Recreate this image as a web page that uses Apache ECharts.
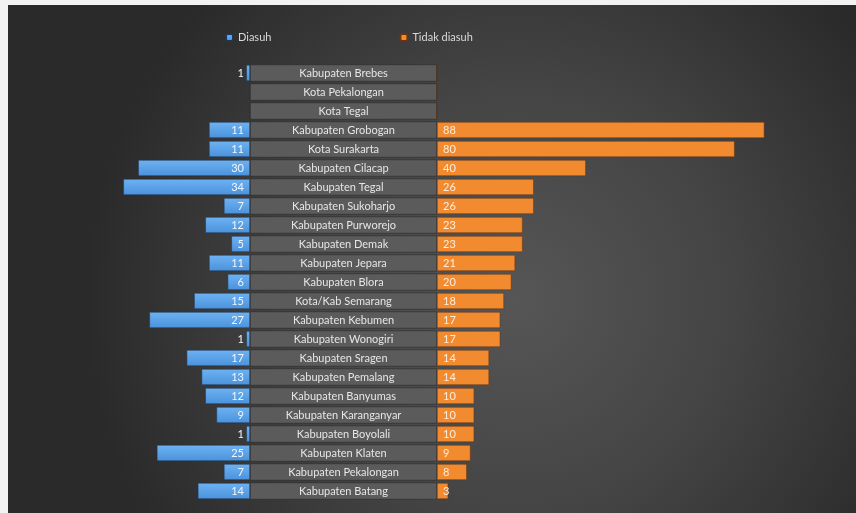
<!DOCTYPE html>
<html>
<head>
<meta charset="utf-8">
<script src="https://cdn.jsdelivr.net/npm/echarts@6/dist/echarts.min.js"></script>
<style>
html,body{margin:0;padding:0;background:#f2f2f2;width:856px;height:513px;overflow:hidden;}
#c{position:absolute;left:8px;top:5px;width:848px;height:508px;}
</style>
</head>
<body>
<div id="c"></div>
<script>
const categories = [
  "Kabupaten Brebes","Kota Pekalongan","Kota Tegal","Kabupaten Grobogan","Kota Surakarta",
  "Kabupaten Cilacap","Kabupaten Tegal","Kabupaten Sukoharjo","Kabupaten Purworejo","Kabupaten Demak",
  "Kabupaten Jepara","Kabupaten Blora","Kota/Kab Semarang","Kabupaten Kebumen","Kabupaten Wonogiri",
  "Kabupaten Sragen","Kabupaten Pemalang","Kabupaten Banyumas","Kabupaten Karanganyar","Kabupaten Boyolali",
  "Kabupaten Klaten","Kabupaten Pekalongan","Kabupaten Batang"
];
const seriesNames = ["Diasuh","Tidak diasuh"];
const leftValues  = [1,0,0,11,11,30,34,7,12,5,11,6,15,27,1,17,13,12,9,1,25,7,14];
const rightValues = [0,0,0,88,80,40,26,26,23,23,21,20,18,17,17,14,14,10,10,10,9,8,3];
const boxValues = categories.map(() => 1);

const chart = echarts.init(document.getElementById('c'));
const FONT = 'Lato';
const gTop = 58.5, gHeight = 437;
chart.setOption({
  backgroundColor: {
    type: 'radial', x: 0.6, y: 0.58, r: 0.85,
    colorStops: [{offset: 0, color: '#565656'}, {offset: 0.5, color: '#444444'}, {offset: 1, color: '#2a2a2a'}]
  },
  textStyle: {fontFamily: FONT},
  legend: {
    data: seriesNames, left: 212, top: 22, itemWidth: 7, itemHeight: 7, itemGap: 128,
    textStyle: {color: '#d9d9d9', fontSize: 11, fontFamily: FONT}
  },
  grid: [
    {left: 93, top: gTop, width: 149, height: gHeight},
    {left: 242, top: gTop, width: 187, height: gHeight},
    {left: 429, top: gTop, width: 372, height: gHeight}
  ],
  xAxis: [
    {gridIndex: 0, type: 'value', min: 0, max: 40, inverse: true, show: false},
    {gridIndex: 1, type: 'value', min: 0, max: 1, show: false},
    {gridIndex: 2, type: 'value', min: 0, max: 100, show: false}
  ],
  yAxis: [0,1,2].map(i => ({gridIndex: i, type: 'category', data: categories, inverse: true, show: false})),
  series: [
    {
      name: seriesNames[0], type: 'bar', xAxisIndex: 0, yAxisIndex: 0, data: leftValues,
      barCategoryGap: '16%',
      itemStyle: {
        color: {type: 'linear', x: 0, y: 0, x2: 0, y2: 1, colorStops: [
          {offset: 0, color: '#6db2f2'}, {offset: 1, color: '#4a92dc'}]},
        borderColor: '#1f3550', borderWidth: 0.5
      },
      label: {show: true, position: 'insideRight', distance: 6, color: '#f2f6fb', fontSize: 11,
        fontFamily: FONT, formatter: p => p.value ? p.value : ''}
    },
    {
      name: 'box', type: 'bar', xAxisIndex: 1, yAxisIndex: 1, data: boxValues,
      barCategoryGap: '10%', silent: true,
      itemStyle: {color: '#5b5b5b', borderColor: '#2a2a2a', borderWidth: 0.6},
      label: {show: true, position: 'inside', color: '#e6e6e6', fontSize: 11, fontFamily: FONT,
        formatter: p => p.name}
    },
    {
      name: seriesNames[1], type: 'bar', xAxisIndex: 2, yAxisIndex: 2, data: rightValues,
      barCategoryGap: '16%',
      itemStyle: {color: '#f28a30', borderColor: '#6b3410', borderWidth: 0.5},
      label: {show: true, position: 'insideLeft', distance: 6, color: '#fdeede', fontSize: 11,
        fontFamily: FONT, formatter: p => p.value ? p.value : ''}
    }
  ]
});
</script>
</body>
</html>
